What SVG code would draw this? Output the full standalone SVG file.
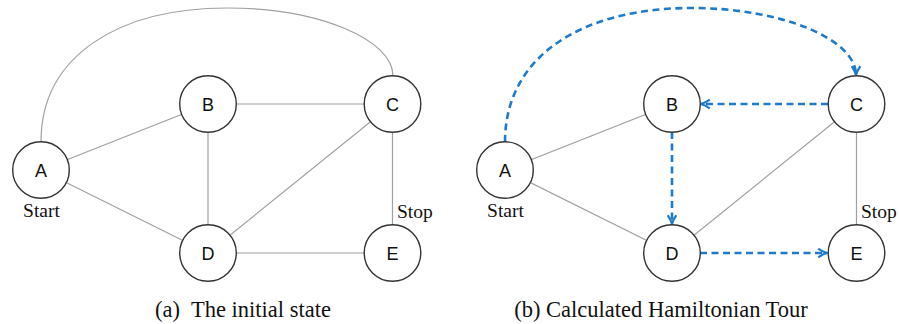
<svg xmlns="http://www.w3.org/2000/svg" width="899" height="324" viewBox="0 0 899 324">
<style>
.edge{stroke:#a0a0a0;stroke-width:1.2;fill:none}
.tour{stroke:#1f7acb;stroke-width:2.6;fill:none;stroke-dasharray:7 4.5;marker-end:url(#arr)}
.node circle{fill:#fff;stroke:#333;stroke-width:1.4}
.node text{font-family:"Liberation Sans","Open Sans",sans-serif;font-size:18px;fill:#111;text-anchor:middle}
.lbl{font-family:"Liberation Serif","DejaVu Serif",serif;font-size:19.5px;fill:#111}
.cap{font-family:"Liberation Serif","DejaVu Serif",serif;font-size:22.5px;fill:#111;text-anchor:middle}
</style>
<defs>
<marker id="arr" viewBox="0 0 10 10" refX="9" refY="5" markerWidth="4.2" markerHeight="4.2" orient="auto" markerUnits="strokeWidth">
<path d="M1,1 Q5,4 9,5 Q5,6 1,9" fill="none" stroke="#1f7acb" stroke-width="2" stroke-linejoin="round"/>
</marker>
</defs>
<g id="connectors">
<path class="edge" d="M41,142 C41,55 120,8 227,8 C320,8 393,40 393,76"/>
<line class="edge" x1="41" y1="170" x2="208" y2="104"/>
<line class="edge" x1="41" y1="170" x2="208" y2="253"/>
<line class="edge" x1="208" y1="104" x2="392.5" y2="104"/>
<line class="edge" x1="208" y1="104" x2="208" y2="253"/>
<line class="edge" x1="392.5" y1="104" x2="208" y2="253"/>
<line class="edge" x1="392.5" y1="104" x2="392.5" y2="253"/>
<line class="edge" x1="208" y1="253" x2="392.5" y2="253"/>
<line class="edge" x1="505" y1="170" x2="672" y2="104"/>
<line class="edge" x1="505" y1="170" x2="672" y2="253"/>
<line class="edge" x1="856.5" y1="104" x2="672" y2="253"/>
<line class="edge" x1="856.5" y1="104" x2="856.5" y2="253"/>
<path class="tour" d="M505,142 C505,55 584,8 691,8 C784,8 856,40 856,75"/>
<line class="tour" x1="828" y1="104" x2="701" y2="104"/>
<line class="tour" x1="672" y1="132" x2="672" y2="224"/>
<line class="tour" x1="700" y1="253" x2="827" y2="253"/>
</g>
<g id="A1" class="node"><circle cx="41" cy="170" r="28.3"/><text x="41" y="176.5">A</text></g>
<g id="B1" class="node"><circle cx="208" cy="104" r="28.3"/><text x="208" y="110.5">B</text></g>
<g id="C1" class="node"><circle cx="392.5" cy="104" r="28.3"/><text x="392.5" y="110.5">C</text></g>
<g id="D1" class="node"><circle cx="208" cy="253" r="28.3"/><text x="208" y="259.5">D</text></g>
<g id="E1" class="node"><circle cx="392.5" cy="253" r="28.3"/><text x="392.5" y="259.5">E</text></g>
<g id="A2" class="node"><circle cx="505" cy="170" r="28.3"/><text x="505" y="176.5">A</text></g>
<g id="B2" class="node"><circle cx="672" cy="104" r="28.3"/><text x="672" y="110.5">B</text></g>
<g id="C2" class="node"><circle cx="856.5" cy="104" r="28.3"/><text x="856.5" y="110.5">C</text></g>
<g id="D2" class="node"><circle cx="672" cy="253" r="28.3"/><text x="672" y="259.5">D</text></g>
<g id="E2" class="node"><circle cx="856.5" cy="253" r="28.3"/><text x="856.5" y="259.5">E</text></g>
<text class="lbl" x="41.5" y="217" text-anchor="middle">Start</text>
<text class="lbl" x="397" y="218">Stop</text>
<text class="lbl" x="505.5" y="217" text-anchor="middle">Start</text>
<text class="lbl" x="861" y="218">Stop</text>
<text class="cap" x="243" y="317" xml:space="preserve">(a)  The initial state</text>
<text class="cap" x="661" y="317">(b) Calculated Hamiltonian Tour</text>
</svg>
